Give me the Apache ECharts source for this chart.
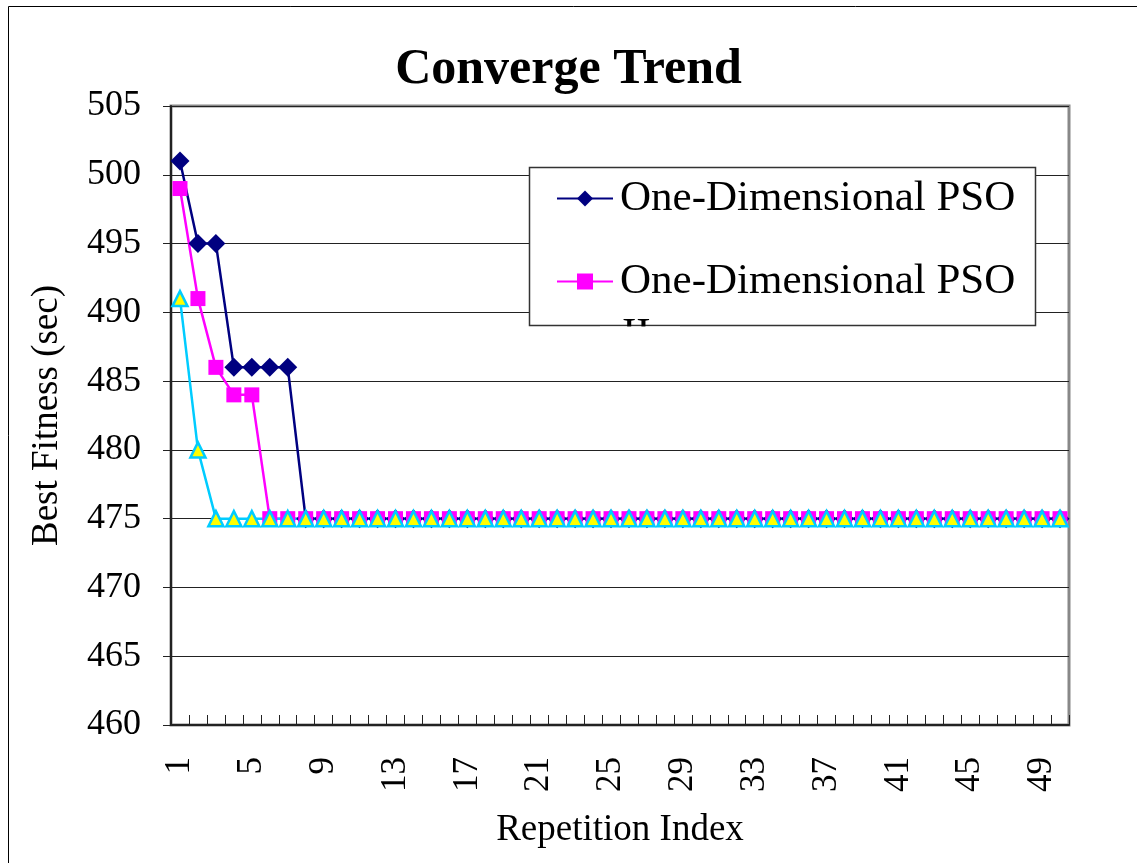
<!DOCTYPE html>
<html>
<head>
<meta charset="utf-8">
<script src="https://cdn.jsdelivr.net/npm/echarts@6/dist/echarts.min.js"></script>
<style>
html,body{margin:0;padding:0;background:#fff;overflow:hidden;}
#chart{width:1137px;height:863px;}
</style>
</head>
<body>
<div id="chart"></div>
<script>
const categories = [];
for (let i = 1; i <= 50; i++) categories.push(String(i));

const seriesNames = ['One-Dimensional PSO', 'One-Dimensional PSO II', 'One-Dimensional PSO III'];

const pso1 = [501, 495, 495, 486, 486, 486, 486,
  475, 475, 475, 475, 475, 475, 475, 475, 475, 475, 475, 475, 475, 475, 475, 475, 475, 475, 475, 475, 475, 475,
  475, 475, 475, 475, 475, 475, 475, 475, 475, 475, 475, 475, 475, 475, 475, 475, 475, 475, 475, 475, 475];
const pso2 = [499, 491, 486, 484, 484,
  475, 475, 475, 475, 475, 475, 475, 475, 475, 475, 475, 475, 475, 475, 475, 475, 475, 475, 475, 475, 475, 475, 475, 475,
  475, 475, 475, 475, 475, 475, 475, 475, 475, 475, 475, 475, 475, 475, 475, 475, 475, 475, 475, 475, 475];
const pso3 = [491, 480,
  475, 475, 475, 475, 475, 475, 475, 475, 475, 475, 475, 475, 475, 475, 475, 475, 475, 475, 475, 475, 475, 475, 475, 475, 475, 475, 475,
  475, 475, 475, 475, 475, 475, 475, 475, 475, 475, 475, 475, 475, 475, 475, 475, 475, 475, 475, 475, 475];

const FONT = '"Liberation Serif", "Times New Roman", serif';

const chart = echarts.init(document.getElementById('chart'), null, {renderer: 'canvas', width: 1137, height: 863});
chart.setOption({
  animation: false,
  backgroundColor: '#fff',
  title: {
    text: 'Converge Trend',
    left: 'center',
    top: 40,
    textStyle: {fontFamily: FONT, fontSize: 50, fontWeight: 'bold', color: '#000'}
  },
  grid: {
    left: 171, right: 68, top: 106, bottom: 138,
    containLabel: false,
    outerBoundsMode: 'none',
    show: true, borderColor: '#888', borderWidth: 3, backgroundColor: 'transparent'
  },
  legend: {
    data: [seriesNames[0], seriesNames[1]],
    orient: 'vertical',
    left: 551,
    top: 172,
    itemGap: 40,
    itemWidth: 56,
    itemHeight: 20,
    z: 10,
    formatter: function (n) { return n === seriesNames[1] ? 'One-Dimensional PSO' : n; },
    textStyle: {fontFamily: FONT, fontSize: 43, color: '#000', padding: [0, 0, 0, 2]}
  },
  graphic: [
    {type: 'rect', z: 0, silent: true,
      shape: {x: 8.5, y: 6.5, width: 3000, height: 3000},
      style: {fill: 'none', stroke: '#000', lineWidth: 1}},
    {type: 'rect', z: 3, silent: true,
      shape: {x: 529.5, y: 167.5, width: 506, height: 158},
      style: {fill: '#fff', stroke: '#333', lineWidth: 1.5}},
    {type: 'text', z: 4, silent: true, left: 622, top: 314,
      style: {text: 'II', fontFamily: FONT, fontSize: 43, fill: '#000'}},
    {type: 'rect', z: 5, silent: true,
      shape: {x: 600, y: 326.5, width: 80, height: 36},
      style: {fill: '#fff'}}
  ],
  xAxis: {
    type: 'category',
    data: categories,
    boundaryGap: true,
    name: 'Repetition Index',
    nameLocation: 'middle',
    nameGap: 87,
    nameTextStyle: {fontFamily: FONT, fontSize: 37, color: '#000'},
    axisLine: {lineStyle: {color: '#222', width: 2}},
    axisTick: {show: true, inside: true, length: 10, interval: 0, lineStyle: {color: '#222', width: 1}},
    axisLabel: {
      interval: 3, rotate: 90, margin: 32,
      fontFamily: FONT, fontSize: 35, color: '#000'
    },
    splitLine: {show: false}
  },
  yAxis: {
    type: 'value',
    min: 460, max: 505, interval: 5,
    name: 'Best Fitness (sec)',
    nameLocation: 'middle',
    nameGap: 105,
    nameRotate: 90,
    nameTextStyle: {fontFamily: FONT, fontSize: 37, color: '#000'},
    axisLine: {show: true, lineStyle: {color: '#222', width: 2}},
    axisTick: {show: true, inside: false, length: 8, lineStyle: {color: '#222'}},
    axisLabel: {margin: 30, fontFamily: FONT, fontSize: 36, color: '#000'},
    splitLine: {show: true, lineStyle: {color: '#222', width: 1}}
  },
  series: [
    {
      name: seriesNames[0], type: 'line', data: pso1,
      symbol: 'diamond', symbolSize: 19, showAllSymbol: true,
      lineStyle: {color: '#000080', width: 2.5},
      itemStyle: {color: '#000080'}
    },
    {
      name: seriesNames[1], type: 'line', data: pso2,
      symbol: 'rect', symbolSize: 15, showAllSymbol: true,
      lineStyle: {color: '#FF00FF', width: 2.5},
      itemStyle: {color: '#FF00FF'}
    },
    {
      name: seriesNames[2], type: 'line', data: pso3,
      symbol: 'triangle', symbolSize: 15, showAllSymbol: true,
      lineStyle: {color: '#00CCFF', width: 2.5},
      itemStyle: {color: '#FFFF00', borderColor: '#00CCFF', borderWidth: 2.5}
    }
  ]
});
</script>
</body>
</html>
